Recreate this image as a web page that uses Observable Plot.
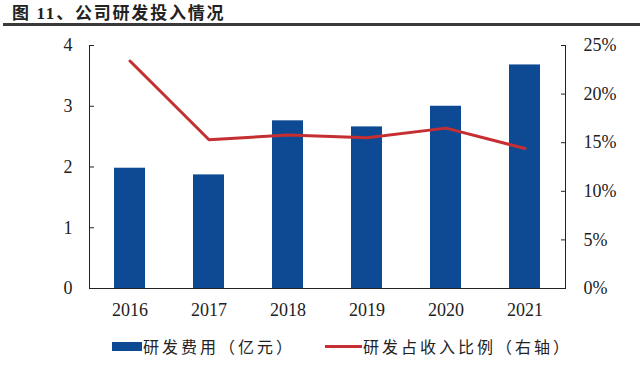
<!DOCTYPE html>
<html>
<head>
<meta charset="utf-8">
<script src="https://cdn.jsdelivr.net/npm/d3@7"></script>
<script src="https://cdn.jsdelivr.net/npm/@observablehq/plot@0.6"></script>
<style>
  html, body { margin: 0; padding: 0; background: #fff; }
  body { width: 640px; height: 368px; overflow: hidden; position: relative; font-family: "Noto Sans CJK SC", sans-serif; color: #222; }
  #title { position: absolute; left: 12px; top: 1px; font-size: 17px; font-weight: bold; letter-spacing: 1.8px; line-height: 22px; white-space: nowrap; color: #222; }
  #title .num { font-family: "Liberation Serif", serif; }
  #rule { position: absolute; left: 3px; right: 0; top: 23px; height: 2.5px; background: #3a3a3a; }
  #chart { position: absolute; left: 0; top: 0; }
  .leg { position: absolute; top: 335px; height: 22px; display: flex; align-items: center; font-size: 16px; letter-spacing: 3px; white-space: nowrap; color: #222; }
  .sw-bar { width: 30px; height: 9px; background: #0d4a93; margin-right: 1px; }
  .sw-line { width: 37px; height: 3px; background: #c62f32; margin-right: 1px; }
</style>
</head>
<body>
<div id="title">图 <span class="num">11</span>、公司研发投入情况</div>
<div id="rule"></div>
<div id="chart"></div>
<div class="leg" style="left:112px"><div class="sw-bar"></div><span id="leg1"></span></div>
<div class="leg" style="left:325px"><div class="sw-line"></div><span id="leg2"></span></div>
<script>
// ---- data ----
const years = ["2016", "2017", "2018", "2019", "2020", "2021"];
const rdExpense = [1.98, 1.87, 2.76, 2.66, 3.00, 3.68];   // 研发费用（亿元）
const rdRatio = [23.4, 15.3, 15.8, 15.5, 16.5, 14.4];     // 研发占收入比例（%）
const leftTicks = [0, 1, 2, 3, 4];
const rightTicks = [0, 5, 10, 15, 20, 25];
const seriesNames = ["研发费用（亿元）", "研发占收入比例（右轴）"];

const leftMax = 4, rightMax = 25;
const toLeft = p => p * leftMax / rightMax;

const rows = years.map((y, i) => ({year: y, expense: rdExpense[i], ratio: rdRatio[i]}));

document.getElementById("leg1").textContent = seriesNames[0];
document.getElementById("leg2").textContent = seriesNames[1];

const chart = Plot.plot({
  width: 640,
  height: 368,
  marginTop: 45,
  marginBottom: 80,
  marginLeft: 89,
  marginRight: 75,
  style: { fontFamily: "Liberation Serif, serif", fontSize: "18px", color: "#222", background: "transparent" },
  x: { type: "band", domain: years, paddingInner: 0.61, paddingOuter: 0.305, label: null },
  y: { domain: [0, leftMax], label: null },
  marks: [
    Plot.barY(rows, { x: "year", y: "expense", fill: "#0d4a93" }),
    Plot.lineY(rows, { x: "year", y: d => toLeft(d.ratio), stroke: "#c62f32", strokeWidth: 3, strokeLinejoin: "round" }),
    Plot.frame({ anchor: "left", stroke: "#222" }),
    Plot.frame({ anchor: "right", stroke: "#222" }),
    Plot.frame({ anchor: "bottom", stroke: "#222" }),
    Plot.axisY(leftTicks, { anchor: "left", tickSize: 0, tickPadding: 17, fontSize: 18, tickFormat: d => String(d), label: null }),
    Plot.axisY(leftTicks, { anchor: "left", tickSize: -5, tickFormat: () => "", label: null, stroke: "#222" }),
    Plot.axisY(rightTicks.map(toLeft), { anchor: "right", tickSize: 0, tickPadding: 18, fontSize: 18, tickFormat: d => Math.round(d * rightMax / leftMax) + "%", label: null }),
    Plot.axisY(rightTicks.map(toLeft), { anchor: "right", tickSize: -5, tickFormat: () => "", label: null, stroke: "#222" }),
    Plot.axisX(years, { anchor: "bottom", tickSize: 0, tickPadding: 15, fontSize: 18, label: null })
  ]
});
document.getElementById("chart").appendChild(chart);
</script>
</body>
</html>
